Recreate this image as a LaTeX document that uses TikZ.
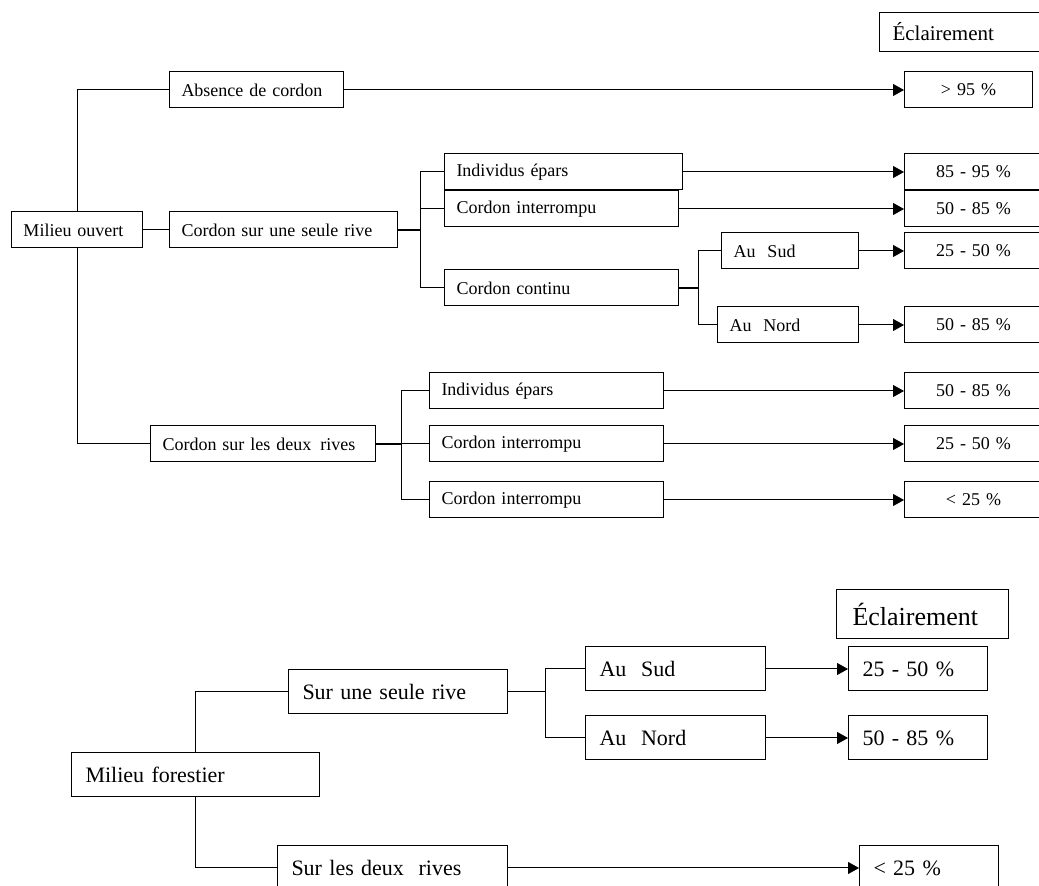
\documentclass[tikz,border=0pt]{standalone}
\usepackage{fontspec}
\setmainfont{Liberation Serif}
\usetikzlibrary{arrows.meta}
\tikzstyle{box} = [rectangle, draw=black, line width=0.5pt,
anchor=west, align=left,
minimum height=18pt,
inner xsep=6pt, inner ysep=0pt,
font=\fontsize{9}{11}\selectfont]
\tikzstyle{pct} = [box, align=center, text width=57pt]
\tikzstyle{head} = [box, minimum height=19.5pt, inner xsep=6.5pt, text width=78pt, font=\fontsize{10.5}{12}\selectfont]
\tikzstyle{bigbox} = [box, minimum height=22pt, inner xsep=7pt, font=\fontsize{11}{13}\selectfont]
\tikzstyle{bighead} = [bigbox, minimum height=24.5pt, inner xsep=8pt, text width=70pt, font=\fontsize{13}{15}\selectfont]
\tikzstyle{link} = [line width=0.5pt]
\tikzstyle{joint} = [line width=1pt]
\tikzstyle{arrow} = [line width=0.5pt, -{Triangle[length=5.5pt, width=6pt]}]

\begin{document}
\begin{tikzpicture}[x=0.5pt, y=-0.5pt]

		% canvas (boxes on the right run off the page)
		\useasboundingbox (0,0) rectangle (1039,886);
		\clip (0,0) rectangle (1039,886);

		% Milieu ouvert
		\node[head] (ecl1) at (879,32) {Éclairement};

		\node[box, text width=53.5pt] (mo) at (11,230) {Milieu ouvert};
		\node[box, text width=75pt] (abs) at (169,90) {Absence de cordon};
		\node[box, text width=102pt] (seule) at (169,230) {Cordon sur une seule rive};
		\node[box, text width=100.5pt] (deux) at (150,444) {Cordon sur les deux\hspace{0.5em}rives};

		\node[box, text width=107pt] (ind1) at (444,172) {Individus épars};
		\node[box, text width=105pt] (int1) at (444,209) {Cordon interrompu};
		\node[box, text width=105pt] (cont) at (444,288) {Cordon continu};
		\node[box, text width=56.5pt] (sud1) at (721,251) {Au~~Sud};
		\node[box, text width=58.5pt] (nord1) at (717,325) {Au~~Nord};

		\node[box, text width=105pt] (ind2) at (429,391) {Individus épars};
		\node[box, text width=105pt] (int2) at (429,444) {Cordon interrompu};
		\node[box, text width=105pt] (int3) at (429,500) {Cordon interrompu};

		\node[pct, text width=52pt] (p1) at (904,90) {> 95 \%};
		\node[pct] (p2) at (904,172) {85 - 95 \%};
		\node[pct] (p3) at (904,209) {50 - 85 \%};
		\node[pct] (p4) at (904,251) {25 - 50 \%};
		\node[pct] (p5) at (904,325) {50 - 85 \%};
		\node[pct] (p6) at (904,391) {50 - 85 \%};
		\node[pct] (p7) at (904,444) {25 - 50 \%};
		\node[pct] (p8) at (904,500) {< 25 \%};

		\coordinate (j1) at (420,230);
		\coordinate (j2) at (698,288);
		\coordinate (j3) at (401,444);

		\draw[link] (mo.north) |- (abs.west);
		\draw[link] (mo.east) -- (seule.west);
		\draw[link] (mo.south) |- (deux.west);

		\draw[joint] (seule.east) -- (j1);
		\foreach \n in {ind1,int1,cont}
			\draw[link] (j1) |- (\n.west);

		\draw[joint] (cont.east) -- (j2);
		\foreach \n in {sud1,nord1}
			\draw[link] (j2) |- (\n.west);

		\draw[joint] (deux.east) -- (j3);
		\foreach \n in {ind2,int2,int3}
			\draw[link] (j3) |- (\n.west);

		\foreach \a/\b in {abs/p1, ind1/p2, int1/p3, sud1/p4, nord1/p5, ind2/p6, int2/p7, int3/p8}
			\draw[arrow] (\a) -- (\b);

		% Milieu forestier
		\node[bighead] (ecl2) at (836,614) {Éclairement};

		\node[bigbox, text width=110pt] (mf) at (71,775) {Milieu forestier};
		\node[bigbox, text width=95.5pt] (su) at (288,692) {Sur une seule rive};
		\node[bigbox, text width=101pt] (sd) at (277,868) {Sur les deux~~rives};
		\node[bigbox, text width=76pt] (sud2) at (585,669) {Au~~Sud};
		\node[bigbox, text width=76pt] (nord2) at (585,738) {Au~~Nord};

		\node[bigbox, text width=55.5pt] (q1) at (848,669) {25 - 50 \%};
		\node[bigbox, text width=55.5pt] (q2) at (848,738) {50 - 85 \%};
		\node[bigbox, text width=55.5pt] (q3) at (859,868) {< 25 \%};

		\coordinate (j4) at (545,692);

		\draw[link] (mf.north) |- (su.west);
		\draw[link] (mf.south) |- (sd.west);
		\draw[link] (su.east) -- (j4);
		\foreach \n in {sud2,nord2}
			\draw[link] (j4) |- (\n.west);

		\draw[arrow] (sud2) -- (q1);
		\draw[arrow] (nord2) -- (q2);
		\draw[arrow] (sd) -- (q3);

	\end{tikzpicture}
\end{document}
